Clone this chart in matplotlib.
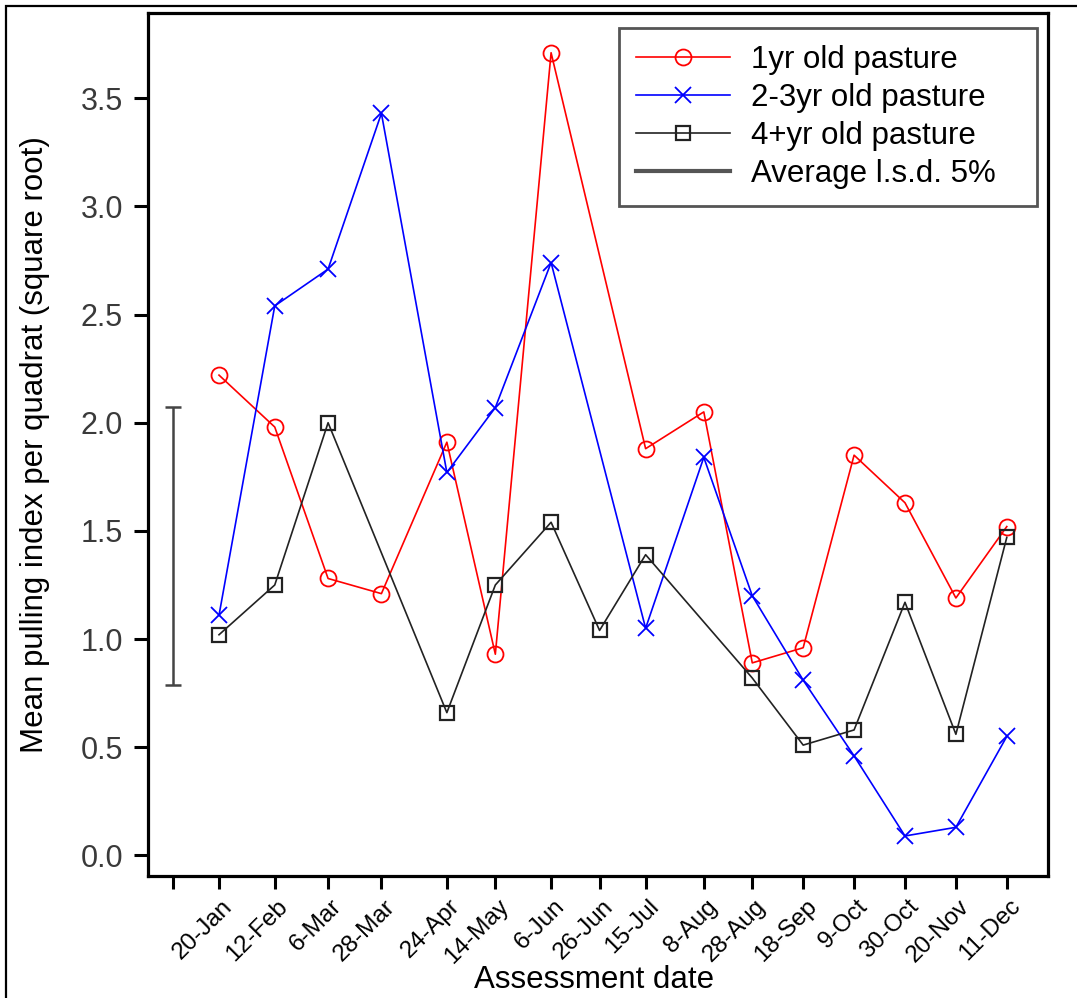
import matplotlib
matplotlib.use("Agg")
import matplotlib.pyplot as plt
from matplotlib.lines import Line2D
from matplotlib.patches import Rectangle
import matplotlib.transforms as mtransforms
from datetime import datetime

plt.rcParams['font.family'] = ['Liberation Sans', 'DejaVu Sans']

YEAR = 2003
date_labels = ["20-Jan", "12-Feb", "6-Mar", "28-Mar", "24-Apr", "14-May", "6-Jun", "26-Jun",
               "15-Jul", "8-Aug", "28-Aug", "18-Sep", "9-Oct", "30-Oct", "20-Nov", "11-Dec"]
dates = [datetime.strptime(f"{d}-{YEAR}", "%d-%b-%Y") for d in date_labels]

# None = not assessed
one_yr = [2.22, 1.98, 1.28, 1.21, 1.91, 0.93, 3.71, None, 1.88, 2.05, 0.89, 0.96, 1.85, 1.63, 1.19, 1.52]
two_three_yr = [1.11, 2.54, 2.71, 3.43, 1.77, 2.07, 2.74, None, 1.05, 1.84, 1.20, 0.81, 0.46, 0.09, 0.13, 0.55]
four_plus_yr = [1.02, 1.25, 2.00, None, 0.66, 1.25, 1.54, 1.04, 1.39, None, 0.82, 0.51, 0.58, 1.17, 0.56, 1.47]

lsd_date = datetime(YEAR, 1, 1)
lsd_center = 1.43
lsd_value = 1.287

series_labels = ["1yr old pasture", "2-3yr old pasture", "4+yr old pasture", "Average l.s.d. 5%"]


def present(xs, ys):
    px, py = [], []
    for x, y in zip(xs, ys):
        if y is not None:
            px.append(x)
            py.append(y)
    return px, py


W, H = 1077, 998
fig = plt.figure(figsize=(W / 100, H / 100), dpi=100)
ax = fig.add_axes([148 / W, 1 - 876 / H, (1048 - 148) / W, (876 - 12.7) / H])

# figure frame
fig.patches.append(Rectangle((5.5 / W, 1 - 1010 / H), 1.05, (1010 - 6) / H, transform=fig.transFigure,
                             fill=False, edgecolor='black', linewidth=1.6, clip_on=False))

red_col = '#ff0000'
blue_col = '#0000ff'
blk_col = '#222222'

x1, y1 = present(dates, one_yr)
l1, = ax.plot(x1, y1, color=red_col, lw=1.2, marker='o', ms=11.5, mfc='none', mec=red_col, mew=1.3)
x2, y2 = present(dates, two_three_yr)
l2, = ax.plot(x2, y2, color=blue_col, lw=1.2, marker='x', ms=12, mec=blue_col, mew=1.3)
x3, y3 = present(dates, four_plus_yr)
l3, = ax.plot(x3, y3, color=blk_col, lw=1.2, marker='s', ms=10.5, mfc='none', mec=blk_col, mew=1.6)

ax.errorbar([lsd_date], [lsd_center], yerr=[lsd_value / 2], fmt='none', ecolor='#444444',
            elinewidth=1.8, capsize=5.5, capthick=1.8)

ax.set_xlim(datetime(YEAR - 1, 12, 21, 17), datetime(YEAR, 12, 28, 0))
ax.set_ylim(-0.095, 3.895)

yt = [0, 0.5, 1.0, 1.5, 2.0, 2.5, 3.0, 3.5]
ax.set_yticks(yt)
ax.set_yticklabels([f"{v:.1f}" for v in yt])
ax.tick_params(axis='y', direction='out', length=10, width=2.2, pad=8, labelsize=22, labelcolor='#3a3a3a')

ax.set_xticks([lsd_date] + dates)
ax.set_xticklabels([""] + date_labels)
ax.tick_params(axis='x', direction='out', length=9.5, width=2.2, pad=10, labelsize=17.5, labelcolor='black')
offset = mtransforms.ScaledTranslation(10 / 100, 0, fig.dpi_scale_trans)
for lab in ax.get_xticklabels():
    lab.set_rotation(45)
    lab.set_ha('right')
    lab.set_va('center')
    lab.set_rotation_mode('anchor')
    lab.set_transform(lab.get_transform() + offset)

for s in ax.spines.values():
    s.set_linewidth(2.3)
    s.set_color('black')

ax.set_ylabel("Mean pulling index per quadrat (square root)", fontsize=22.5)
ax.yaxis.set_label_coords(-0.109, 0.5)
ax.set_xlabel("Assessment date", fontsize=22.5)
ax.xaxis.set_label_coords(0.4956, -0.103)

lsd_handle = Line2D([], [], color='#555555', lw=3)
leg = ax.legend([l1, l2, l3, lsd_handle], series_labels, loc='upper left', mode='expand',
                bbox_to_anchor=(0.5233, 0.0, 0.4647, 0.982), borderaxespad=0, fontsize=22.5,
                numpoints=1, handlelength=3.0, labelspacing=0.25, handletextpad=0.68,
                borderpad=0.55, fancybox=False, framealpha=1)
leg.get_frame().set_edgecolor('#555555')
leg.get_frame().set_linewidth(2)

fig.savefig("out.png", dpi=100)
